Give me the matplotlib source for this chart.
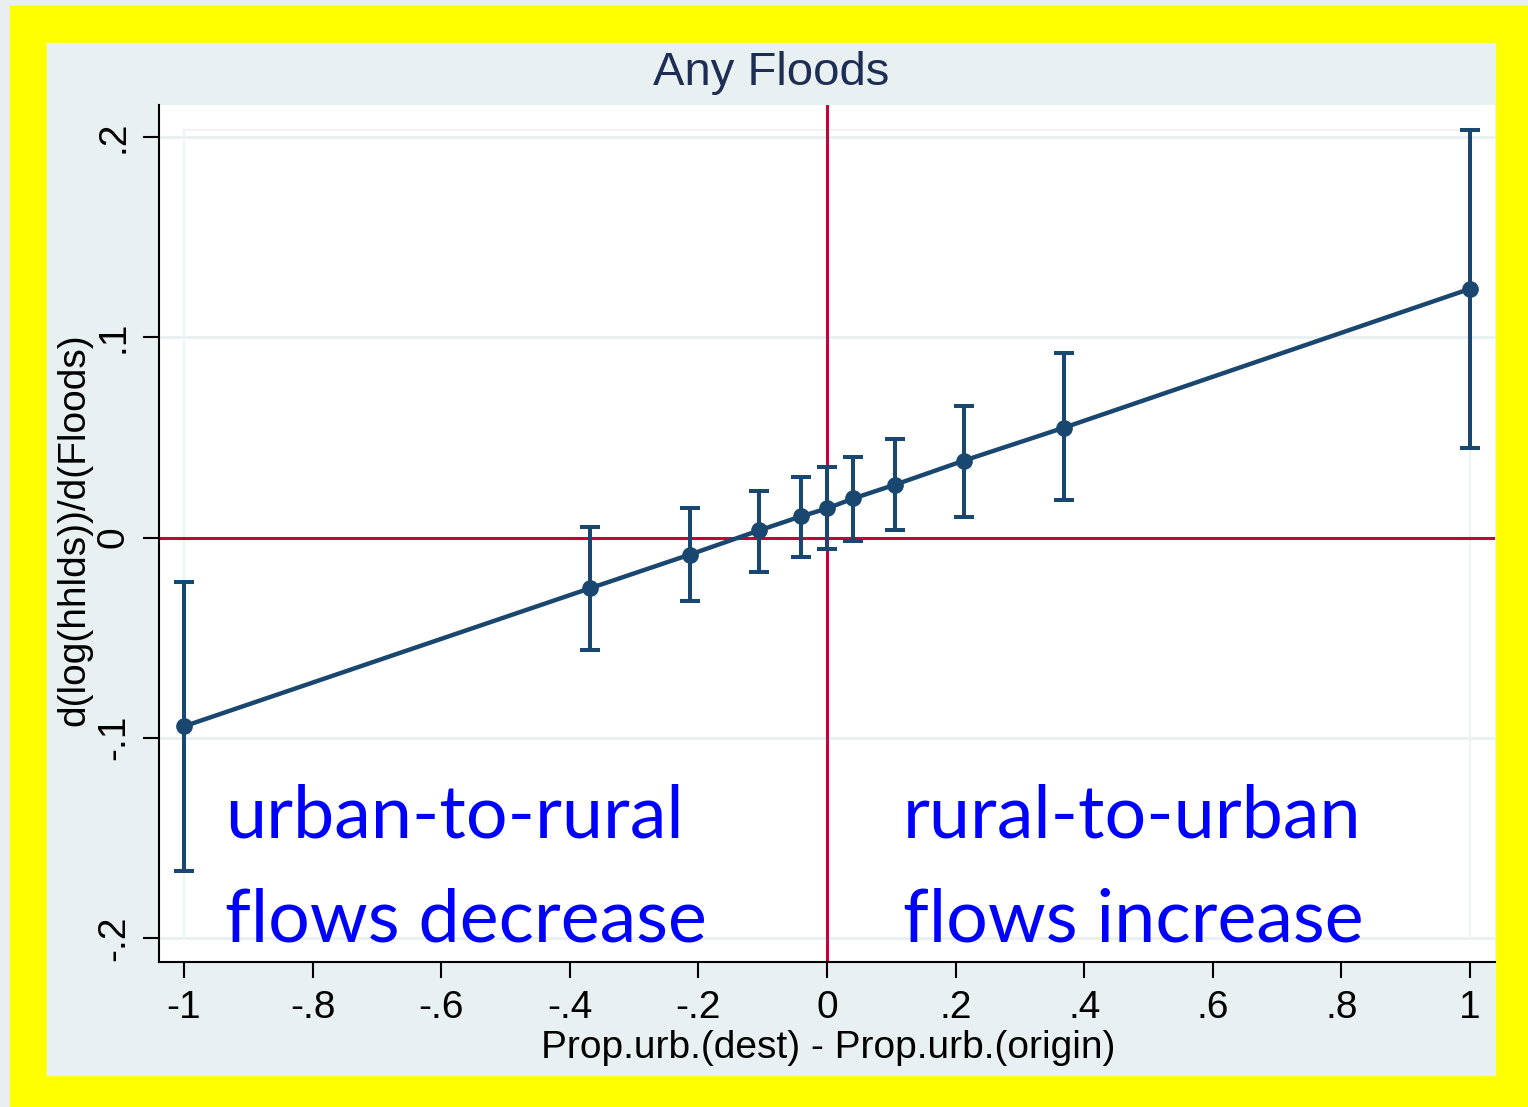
import numpy as np
import matplotlib.pyplot as plt
from matplotlib.patches import Rectangle

# values
x_diff = [-1, -0.369, -0.213, -0.106, -0.041, 0, 0.041, 0.106, 0.213, 0.369, 1]
effect = [-0.0943, -0.0254, -0.0085, 0.0035, 0.0105, 0.0145, 0.0195, 0.0264, 0.0384, 0.0549, 0.1242]
ci_low = [-0.1666, -0.0564, -0.0319, -0.0170, -0.0095, -0.0055, -0.0015, 0.0035, 0.0100, 0.0185, 0.0449]
ci_high = [-0.0224, 0.0050, 0.0145, 0.0234, 0.0300, 0.0350, 0.0400, 0.0494, 0.0658, 0.0923, 0.2035]

x_ticks = [-1, -0.8, -0.6, -0.4, -0.2, 0, 0.2, 0.4, 0.6, 0.8, 1]
x_ticklabels = ['-1', '-.8', '-.6', '-.4', '-.2', '0', '.2', '.4', '.6', '.8', '1']
y_ticks = [-0.2, -0.1, 0, 0.1, 0.2]
y_ticklabels = ['-.2', '-.1', '0', '.1', '.2']

navy = '#1a476f'
red = '#c10534'
bg = '#e8f0f2'

W, H = 1528, 1107
fig = plt.figure(figsize=(W / 100, H / 100), dpi=100)
fig.patch.set_facecolor('#e9eef0')

# yellow frame and graph region
fig.patches.append(Rectangle((10 / W, 0), 1 - 10 / W, (H - 6) / H,
                             transform=fig.transFigure, color='#ffff00', zorder=-2))
fig.patches.append(Rectangle((47 / W, (H - 1075) / H), (1495 - 47) / W, (1075 - 43) / H,
                             transform=fig.transFigure, color=bg, zorder=-1))

ax = fig.add_axes([159 / W, (H - 962) / H, (1495 - 159) / W, (962 - 105) / H])
ax.set_zorder(2)
ax.set_facecolor('white')

ax.set_xlim(-1.0389, 1.0389)
ax.set_ylim(-0.212, 0.216)

for yv in [-0.2, -0.1, 0.1, 0.2]:
    ax.axhline(yv, color=bg, lw=2, zorder=1)
# faint box
ax.plot([-1, -1, 1, 1], [-0.2, 0.2035, 0.2035, -0.2], color='#eef3f4', lw=1.5, zorder=1)

ax.axhline(0, color=red, lw=2.2, zorder=2)
ax.axvline(0, color=red, lw=2.2, zorder=2)

x = np.array(x_diff)
y = np.array(effect)
yerr = [y - np.array(ci_low), np.array(ci_high) - y]
ax.errorbar(x, y, yerr=yerr, fmt='none', ecolor=navy, elinewidth=2.9,
            capsize=7.5, capthick=2.9, zorder=3)
ax.plot(x, y, color=navy, lw=3.2, marker='o', markersize=11, zorder=4)

ax.set_xticks(x_ticks)
ax.set_xticklabels(x_ticklabels, fontsize=28, family='Liberation Sans')
ax.set_yticks(y_ticks)
ax.set_yticklabels(y_ticklabels, fontsize=28, family='Liberation Sans',
                   rotation=90, va='center')
ax.tick_params(axis='both', length=11.5, width=1.5, color='black')
ax.tick_params(axis='x', pad=9)
ax.tick_params(axis='y', pad=8)

for s in ['top', 'right']:
    ax.spines[s].set_visible(False)
for s in ['left', 'bottom']:
    ax.spines[s].set_linewidth(1.5)

fig.text(828 / W, (H - 1058) / H, 'Prop.urb.(dest) - Prop.urb.(origin)', fontsize=28,
         family='Liberation Sans', ha='center', va='baseline')
fig.text(74 / W, (H - 530) / H, 'd(log(hhlds))/d(Floods)', fontsize=28,
         family='Liberation Sans', rotation=90, ha='center', va='center')

fig.text(771 / W, (H - 85) / H, 'Any Floods', fontsize=34, family='Liberation Sans',
         color='#1e2d53', ha='center', va='baseline')

txt = dict(fontsize=53, family='Lato', color='#0000ff', va='baseline', zorder=5)
ax.text(-0.936, -0.1496, 'urban-to-rural', **txt)
ax.text(-0.936, -0.2020, 'flows decrease', **txt)
ax.text(0.118, -0.1496, 'rural-to-urban', **txt)
ax.text(0.118, -0.2020, 'flows increase', **txt)

fig.savefig('out.png', dpi=100, facecolor=fig.get_facecolor())
